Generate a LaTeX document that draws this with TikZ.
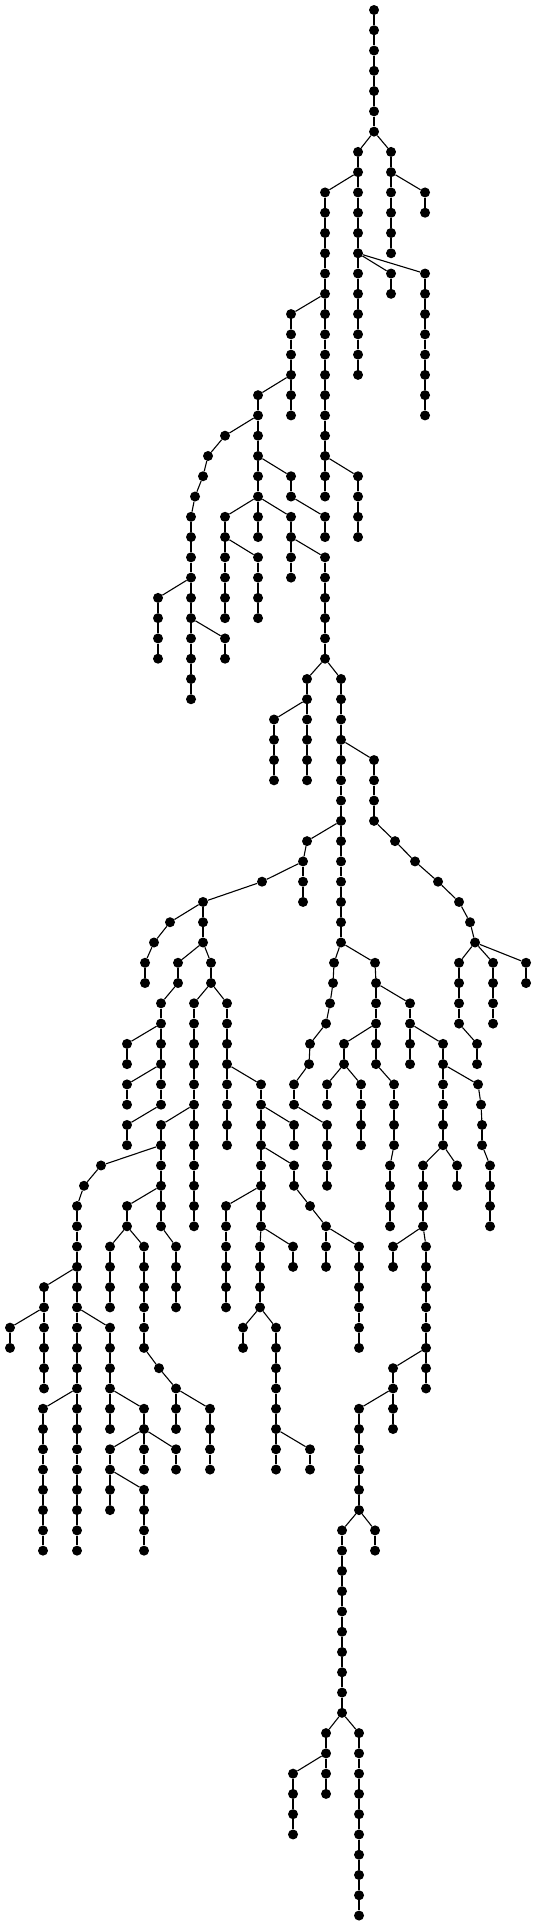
\documentclass[tikz,border=0pt]{standalone}
\begin{document}
\tikzset{dot/.style={circle,fill=black,draw=none,inner sep=0pt,minimum size=10pt},
edge/.style={line width=1.1pt,black}}
\newcommand\tnode[4]{\node[dot] (n#1x#2) at (#2,#1) {}; \draw[edge] (n#3x#4) -- (n#1x#2);}
\begin{tikzpicture}[x=1pt,y=-20.27pt]
\useasboundingbox (0,-0.4933) rectangle (536,94.4672);
\node[dot] (n0x374) at (374,0) {};
\tnode{1}{374}{0}{374} \tnode{2}{374}{1}{374} \tnode{3}{374}{2}{374} \tnode{4}{374}{3}{374} \tnode{5}{374}{4}{374} \tnode{6}{374}{5}{374}
\tnode{7}{358}{6}{374} \tnode{7}{391}{6}{374}
\tnode{8}{358}{7}{358} \tnode{8}{391}{7}{391}
\tnode{9}{325}{8}{358} \tnode{9}{358}{8}{358} \tnode{9}{391}{8}{391} \tnode{9}{425}{8}{391}
\tnode{10}{325}{9}{325} \tnode{10}{358}{9}{358} \tnode{10}{391}{9}{391} \tnode{10}{425}{9}{425}
\tnode{11}{325}{10}{325} \tnode{11}{358}{10}{358} \tnode{11}{391}{10}{391}
\tnode{12}{325}{11}{325} \tnode{12}{358}{11}{358} \tnode{12}{391}{11}{391}
\tnode{13}{325}{12}{325} \tnode{13}{358}{12}{358} \tnode{13}{391}{12}{358} \tnode{13}{425}{12}{358}
\tnode{14}{325}{13}{325} \tnode{14}{358}{13}{358} \tnode{14}{391}{13}{391} \tnode{14}{425}{13}{425}
\tnode{15}{291}{14}{325} \tnode{15}{325}{14}{325} \tnode{15}{358}{14}{358} \tnode{15}{425}{14}{425}
\tnode{16}{291}{15}{291} \tnode{16}{325}{15}{325} \tnode{16}{358}{15}{358} \tnode{16}{425}{15}{425}
\tnode{17}{291}{16}{291} \tnode{17}{325}{16}{325} \tnode{17}{358}{16}{358} \tnode{17}{425}{16}{425}
\tnode{18}{291}{17}{291} \tnode{18}{325}{17}{325} \tnode{18}{358}{17}{358} \tnode{18}{425}{17}{425}
\tnode{19}{258}{18}{291} \tnode{19}{291}{18}{291} \tnode{19}{325}{18}{325} \tnode{19}{425}{18}{425}
\tnode{20}{258}{19}{258} \tnode{20}{291}{19}{291} \tnode{20}{325}{19}{325} \tnode{20}{425}{19}{425}
\tnode{21}{225}{20}{258} \tnode{21}{258}{20}{258} \tnode{21}{325}{20}{325}
\tnode{22}{208}{21}{225} \tnode{22}{258}{21}{258} \tnode{22}{325}{21}{325}
\tnode{23}{203}{22}{208} \tnode{23}{258}{22}{258} \tnode{23}{291}{22}{258} \tnode{23}{325}{22}{325} \tnode{23}{358}{22}{325}
\tnode{24}{195}{23}{203} \tnode{24}{258}{23}{258} \tnode{24}{291}{23}{291} \tnode{24}{325}{23}{325} \tnode{24}{358}{23}{358}
\tnode{25}{191}{24}{195} \tnode{25}{225}{24}{258} \tnode{25}{258}{24}{258} \tnode{25}{291}{24}{258} \tnode{25}{325}{24}{291} \tnode{25}{358}{24}{358}
\tnode{26}{191}{25}{191} \tnode{26}{225}{25}{225} \tnode{26}{258}{25}{258} \tnode{26}{291}{25}{291} \tnode{26}{325}{25}{325} \tnode{26}{358}{25}{358}
\tnode{27}{191}{26}{191} \tnode{27}{225}{26}{225} \tnode{27}{258}{26}{225} \tnode{27}{291}{26}{291} \tnode{27}{325}{26}{291}
\tnode{28}{191}{27}{191} \tnode{28}{225}{27}{225} \tnode{28}{258}{27}{258} \tnode{28}{291}{27}{291} \tnode{28}{325}{27}{325}
\tnode{29}{158}{28}{191} \tnode{29}{191}{28}{191} \tnode{29}{225}{28}{225} \tnode{29}{258}{28}{258} \tnode{29}{325}{28}{325}
\tnode{30}{158}{29}{158} \tnode{30}{191}{29}{191} \tnode{30}{225}{29}{225} \tnode{30}{258}{29}{258} \tnode{30}{325}{29}{325}
\tnode{31}{158}{30}{158} \tnode{31}{191}{30}{191} \tnode{31}{225}{30}{191} \tnode{31}{325}{30}{325}
\tnode{32}{158}{31}{158} \tnode{32}{191}{31}{191} \tnode{32}{225}{31}{225} \tnode{32}{325}{31}{325}
\tnode{33}{191}{32}{191} \tnode{33}{307}{32}{325} \tnode{33}{341}{32}{325}
\tnode{34}{191}{33}{191} \tnode{34}{307}{33}{307} \tnode{34}{341}{33}{341}
\tnode{35}{274}{34}{307} \tnode{35}{307}{34}{307} \tnode{35}{341}{34}{341}
\tnode{36}{274}{35}{274} \tnode{36}{307}{35}{307} \tnode{36}{341}{35}{341}
\tnode{37}{274}{36}{274} \tnode{37}{307}{36}{307} \tnode{37}{341}{36}{341} \tnode{37}{374}{36}{341}
\tnode{38}{274}{37}{274} \tnode{38}{307}{37}{307} \tnode{38}{341}{37}{341} \tnode{38}{374}{37}{374}
\tnode{39}{341}{38}{341} \tnode{39}{374}{38}{374}
\tnode{40}{341}{39}{341} \tnode{40}{374}{39}{374}
\tnode{41}{307}{40}{341} \tnode{41}{341}{40}{341} \tnode{41}{395}{40}{374}
\tnode{42}{303}{41}{307} \tnode{42}{341}{41}{341} \tnode{42}{415}{41}{395}
\tnode{43}{262}{42}{303} \tnode{43}{303}{42}{303} \tnode{43}{341}{42}{341} \tnode{43}{438}{42}{415}
\tnode{44}{203}{43}{262} \tnode{44}{303}{43}{303} \tnode{44}{341}{43}{341} \tnode{44}{459}{43}{438}
\tnode{45}{170}{44}{203} \tnode{45}{203}{44}{203} \tnode{45}{341}{44}{341} \tnode{45}{470}{44}{459}
\tnode{46}{154}{45}{170} \tnode{46}{203}{45}{203} \tnode{46}{341}{45}{341} \tnode{46}{475}{45}{470}
\tnode{47}{145}{46}{154} \tnode{47}{178}{46}{203} \tnode{47}{211}{46}{203} \tnode{47}{334}{46}{341} \tnode{47}{375}{46}{341} \tnode{47}{459}{46}{475} \tnode{47}{493}{46}{475} \tnode{47}{526}{46}{475}
\tnode{48}{145}{47}{145} \tnode{48}{178}{47}{178} \tnode{48}{211}{47}{211} \tnode{48}{333}{47}{334} \tnode{48}{376}{47}{375} \tnode{48}{459}{47}{459} \tnode{48}{493}{47}{493} \tnode{48}{526}{47}{526}
\tnode{49}{161}{48}{178} \tnode{49}{194}{48}{211} \tnode{49}{227}{48}{211} \tnode{49}{330}{48}{333} \tnode{49}{376}{48}{376} \tnode{49}{410}{48}{376} \tnode{49}{459}{48}{459} \tnode{49}{493}{48}{493}
\tnode{50}{161}{49}{161} \tnode{50}{194}{49}{194} \tnode{50}{227}{49}{227} \tnode{50}{326}{49}{330} \tnode{50}{376}{49}{376} \tnode{50}{410}{49}{410} \tnode{50}{459}{49}{459} \tnode{50}{493}{49}{493}
\tnode{51}{127}{50}{161} \tnode{51}{161}{50}{161} \tnode{51}{194}{50}{194} \tnode{51}{227}{50}{227} \tnode{51}{310}{50}{326} \tnode{51}{344}{50}{376} \tnode{51}{376}{50}{376} \tnode{51}{410}{50}{410} \tnode{51}{443}{50}{410} \tnode{51}{477}{50}{459}
\tnode{52}{127}{51}{127} \tnode{52}{161}{51}{161} \tnode{52}{194}{51}{194} \tnode{52}{227}{51}{227} \tnode{52}{309}{51}{310} \tnode{52}{344}{51}{344} \tnode{52}{376}{51}{376} \tnode{52}{410}{51}{410} \tnode{52}{443}{51}{443} \tnode{52}{477}{51}{477}
\tnode{53}{127}{52}{161} \tnode{53}{161}{52}{161} \tnode{53}{194}{52}{194} \tnode{53}{227}{52}{227} \tnode{53}{261}{52}{227} \tnode{53}{294}{52}{309} \tnode{53}{327}{52}{344} \tnode{53}{361}{52}{344} \tnode{53}{394}{52}{376} \tnode{53}{443}{52}{443} \tnode{53}{478}{52}{443}
\tnode{54}{127}{53}{127} \tnode{54}{161}{53}{161} \tnode{54}{194}{53}{194} \tnode{54}{227}{53}{227} \tnode{54}{261}{53}{261} \tnode{54}{294}{53}{294} \tnode{54}{327}{53}{327} \tnode{54}{361}{53}{361} \tnode{54}{394}{53}{394} \tnode{54}{443}{53}{443} \tnode{54}{481}{53}{478}
\tnode{55}{127}{54}{161} \tnode{55}{161}{54}{194} \tnode{55}{194}{54}{194} \tnode{55}{227}{54}{227} \tnode{55}{261}{54}{261} \tnode{55}{294}{54}{261} \tnode{55}{327}{54}{294} \tnode{55}{361}{54}{361} \tnode{55}{394}{54}{394} \tnode{55}{443}{54}{443} \tnode{55}{482}{54}{481}
\tnode{56}{127}{55}{127} \tnode{56}{161}{55}{161} \tnode{56}{194}{55}{194} \tnode{56}{227}{55}{227} \tnode{56}{261}{55}{261} \tnode{56}{294}{55}{294} \tnode{56}{327}{55}{327} \tnode{56}{361}{55}{361} \tnode{56}{394}{55}{394} \tnode{56}{443}{55}{443} \tnode{56}{482}{55}{482}
\tnode{57}{101}{56}{161} \tnode{57}{161}{56}{161} \tnode{57}{194}{56}{194} \tnode{57}{261}{56}{261} \tnode{57}{294}{56}{261} \tnode{57}{327}{56}{327} \tnode{57}{390}{56}{394} \tnode{57}{423}{56}{443} \tnode{57}{457}{56}{443} \tnode{57}{490}{56}{482}
\tnode{58}{84}{57}{101} \tnode{58}{161}{57}{161} \tnode{58}{194}{57}{194} \tnode{58}{261}{57}{261} \tnode{58}{294}{57}{294} \tnode{58}{327}{57}{327} \tnode{58}{390}{57}{390} \tnode{58}{423}{57}{423} \tnode{58}{457}{57}{457} \tnode{58}{490}{57}{490}
\tnode{59}{77}{58}{84} \tnode{59}{127}{58}{161} \tnode{59}{161}{58}{161} \tnode{59}{194}{58}{194} \tnode{59}{226}{58}{261} \tnode{59}{261}{58}{261} \tnode{59}{310}{58}{294} \tnode{59}{390}{58}{390} \tnode{59}{423}{58}{423} \tnode{59}{490}{58}{490}
\tnode{60}{77}{59}{77} \tnode{60}{127}{59}{127} \tnode{60}{161}{59}{161} \tnode{60}{194}{59}{194} \tnode{60}{226}{59}{226} \tnode{60}{261}{59}{261} \tnode{60}{326}{59}{310} \tnode{60}{390}{59}{390} \tnode{60}{423}{59}{423} \tnode{60}{490}{59}{490}
\tnode{61}{77}{60}{77} \tnode{61}{110}{60}{127} \tnode{61}{144}{60}{127} \tnode{61}{176}{60}{161} \tnode{61}{226}{60}{226} \tnode{61}{260}{60}{261} \tnode{61}{293}{60}{261} \tnode{61}{326}{60}{326} \tnode{61}{359}{60}{326} \tnode{61}{393}{60}{423} \tnode{61}{426}{60}{423}
\tnode{62}{77}{61}{77} \tnode{62}{110}{61}{110} \tnode{62}{144}{61}{144} \tnode{62}{176}{61}{176} \tnode{62}{226}{61}{226} \tnode{62}{260}{61}{260} \tnode{62}{293}{61}{293} \tnode{62}{326}{61}{326} \tnode{62}{359}{61}{359} \tnode{62}{393}{61}{393} \tnode{62}{426}{61}{426}
\tnode{63}{44}{62}{77} \tnode{63}{77}{62}{77} \tnode{63}{110}{62}{110} \tnode{63}{144}{62}{144} \tnode{63}{176}{62}{176} \tnode{63}{226}{62}{226} \tnode{63}{260}{62}{260} \tnode{63}{359}{62}{359} \tnode{63}{426}{62}{426}
\tnode{64}{44}{63}{44} \tnode{64}{77}{63}{77} \tnode{64}{110}{63}{110} \tnode{64}{144}{63}{144} \tnode{64}{176}{63}{176} \tnode{64}{226}{63}{226} \tnode{64}{260}{63}{260} \tnode{64}{359}{63}{359} \tnode{64}{426}{63}{426}
\tnode{65}{10}{64}{44} \tnode{65}{44}{64}{44} \tnode{65}{77}{64}{77} \tnode{65}{110}{64}{77} \tnode{65}{144}{64}{144} \tnode{65}{243}{64}{260} \tnode{65}{276}{64}{260} \tnode{65}{359}{64}{359} \tnode{65}{426}{64}{426}
\tnode{66}{10}{65}{10} \tnode{66}{44}{65}{44} \tnode{66}{77}{65}{77} \tnode{66}{110}{65}{110} \tnode{66}{144}{65}{144} \tnode{66}{243}{65}{243} \tnode{66}{276}{65}{276} \tnode{66}{359}{65}{359} \tnode{66}{426}{65}{426}
\tnode{67}{44}{66}{44} \tnode{67}{77}{66}{77} \tnode{67}{110}{66}{110} \tnode{67}{159}{66}{144} \tnode{67}{276}{66}{276} \tnode{67}{393}{66}{426} \tnode{67}{426}{66}{426}
\tnode{68}{44}{67}{44} \tnode{68}{77}{67}{77} \tnode{68}{110}{67}{110} \tnode{68}{176}{67}{159} \tnode{68}{276}{67}{276} \tnode{68}{393}{67}{393} \tnode{68}{426}{67}{426}
\tnode{69}{43}{68}{77} \tnode{69}{77}{68}{77} \tnode{69}{110}{68}{110} \tnode{69}{144}{68}{110} \tnode{69}{176}{68}{176} \tnode{69}{210}{68}{176} \tnode{69}{276}{68}{276} \tnode{69}{359}{68}{393} \tnode{69}{393}{68}{393}
\tnode{70}{43}{69}{43} \tnode{70}{77}{69}{77} \tnode{70}{110}{69}{110} \tnode{70}{144}{69}{144} \tnode{70}{176}{69}{176} \tnode{70}{210}{69}{210} \tnode{70}{276}{69}{276} \tnode{70}{359}{69}{359} \tnode{70}{393}{69}{393}
\tnode{71}{43}{70}{43} \tnode{71}{77}{70}{77} \tnode{71}{110}{70}{144} \tnode{71}{144}{70}{144} \tnode{71}{176}{70}{144} \tnode{71}{210}{70}{210} \tnode{71}{276}{70}{276} \tnode{71}{310}{70}{276} \tnode{71}{359}{70}{359}
\tnode{72}{43}{71}{43} \tnode{72}{77}{71}{77} \tnode{72}{110}{71}{110} \tnode{72}{144}{71}{144} \tnode{72}{176}{71}{176} \tnode{72}{210}{71}{210} \tnode{72}{276}{71}{276} \tnode{72}{310}{71}{310} \tnode{72}{359}{71}{359}
\tnode{73}{43}{72}{43} \tnode{73}{77}{72}{77} \tnode{73}{110}{72}{110} \tnode{73}{144}{72}{110} \tnode{73}{359}{72}{359}
\tnode{74}{43}{73}{43} \tnode{74}{77}{73}{77} \tnode{74}{110}{73}{110} \tnode{74}{144}{73}{144} \tnode{74}{359}{73}{359}
\tnode{75}{43}{74}{43} \tnode{75}{77}{74}{77} \tnode{75}{144}{74}{144} \tnode{75}{342}{74}{359} \tnode{75}{375}{74}{359}
\tnode{76}{43}{75}{43} \tnode{76}{77}{75}{77} \tnode{76}{144}{75}{144} \tnode{76}{342}{75}{342} \tnode{76}{375}{75}{375}
\tnode{77}{342}{76}{342} \tnode{78}{342}{77}{342} \tnode{79}{342}{78}{342} \tnode{80}{342}{79}{342} \tnode{81}{342}{80}{342} \tnode{82}{342}{81}{342} \tnode{83}{342}{82}{342} \tnode{84}{342}{83}{342}
\tnode{85}{326}{84}{342} \tnode{85}{359}{84}{342}
\tnode{86}{326}{85}{326} \tnode{86}{359}{85}{359}
\tnode{87}{293}{86}{326} \tnode{87}{326}{86}{326} \tnode{87}{359}{86}{359}
\tnode{88}{293}{87}{293} \tnode{88}{326}{87}{326} \tnode{88}{359}{87}{359}
\tnode{89}{293}{88}{293} \tnode{89}{359}{88}{359}
\tnode{90}{293}{89}{293} \tnode{90}{359}{89}{359}
\tnode{91}{359}{90}{359} \tnode{92}{359}{91}{359} \tnode{93}{359}{92}{359} \tnode{94}{359}{93}{359}
\end{tikzpicture}
\end{document}
